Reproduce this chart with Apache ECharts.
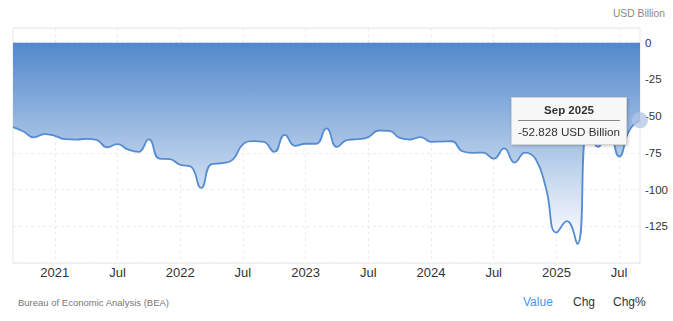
<!DOCTYPE html>
<html>
<head>
<meta charset="utf-8">
<script src="https://cdn.jsdelivr.net/npm/echarts@6.0.0/dist/echarts.min.js"></script>
<style>
html,body{margin:0;padding:0;background:#fff;}
#c{width:673px;height:321px;}
</style>
</head>
<body>
<div id="c"></div>
<script>
const categories = [
  'Sep 2020','Oct 2020','Nov 2020','Dec 2020',
  'Jan 2021','Feb 2021','Mar 2021','Apr 2021','May 2021','Jun 2021','Jul 2021','Aug 2021','Sep 2021','Oct 2021','Nov 2021','Dec 2021',
  'Jan 2022','Feb 2022','Mar 2022','Apr 2022','May 2022','Jun 2022','Jul 2022','Aug 2022','Sep 2022','Oct 2022','Nov 2022','Dec 2022',
  'Jan 2023','Feb 2023','Mar 2023','Apr 2023','May 2023','Jun 2023','Jul 2023','Aug 2023','Sep 2023','Oct 2023','Nov 2023','Dec 2023',
  'Jan 2024','Feb 2024','Mar 2024','Apr 2024','May 2024','Jun 2024','Jul 2024','Aug 2024','Sep 2024','Oct 2024','Nov 2024','Dec 2024',
  'Jan 2025','Feb 2025','Mar 2025','Apr 2025','May 2025','Jun 2025','Jul 2025','Aug 2025','Sep 2025'
];
const values = [
  -57.5, -60.5, -64.5, -62.3,
  -63.4, -65.7, -66.0, -65.5, -66.2, -71.2, -69.1, -72.7, -74.4, -65.8, -78.9, -79.3,
  -83.1, -84.3, -98.9, -82.7, -82.0, -79.8, -69.2, -67.0, -67.6, -74.4, -62.7, -70.3,
  -68.8, -68.8, -58.4, -71.0, -66.1, -65.7, -64.3, -59.8, -60.0, -64.8, -65.9, -64.3,
  -67.5, -67.3, -67.1, -73.9, -75.0, -74.8, -79.0, -72.0, -81.6, -74.8, -79.0, -99.0,
  -129.2, -121.5, -137.0, -60.0, -71.0, -60.0, -77.5, -59.5, -52.828
];
const yTicks = { min: -150, max: 10, step: 25 };
const unitLabel = 'USD Billion';
const sourceLabel = 'Bureau of Economic Analysis (BEA)';
const tabLabels = ['Value', 'Chg', 'Chg%'];

const FONT = '"Liberation Sans", Arial, sans-serif';
const isMajor = v => v.indexOf('Jan') === 0 || v.indexOf('Jul') === 0;
const fmtX = v => v.indexOf('Jan') === 0 ? v.slice(4) : (v.indexOf('Jul') === 0 ? 'Jul' : '');
const lastIdx = values.length - 1;

const chart = echarts.init(document.getElementById('c'), null, { renderer: 'svg' });
chart.setOption({
  animation: false,
  textStyle: { fontFamily: FONT },
  grid: { left: 13, right: 33, top: 28, bottom: 58, show: true, borderColor: '#e6e6e6', borderWidth: 1 },
  xAxis: {
    type: 'category',
    data: categories,
    boundaryGap: false,
    axisLine: { show: false },
    axisTick: { show: false },
    axisLabel: {
      interval: (i, v) => isMajor(v),
      formatter: v => fmtX(v),
      color: '#333', fontSize: 13, margin: 3, fontFamily: FONT
    },
    splitLine: { show: true, interval: (i, v) => isMajor(v), lineStyle: { color: '#ececec', type: [3, 3] } }
  },
  yAxis: {
    type: 'value',
    position: 'right',
    min: yTicks.min, max: yTicks.max, interval: yTicks.step,
    axisLine: { show: false },
    axisTick: { show: false },
    axisLabel: {
      formatter: v => (v > 0 || v <= yTicks.min) ? '' : String(v),
      color: '#333', fontSize: 11.5, margin: 5, fontFamily: FONT
    },
    splitLine: { show: true, lineStyle: { color: '#ececec', type: [3, 3] } }
  },
  tooltip: {
    trigger: 'axis',
    axisPointer: { type: 'none' },
    alwaysShowContent: true,
    showDelay: 0,
    transitionDuration: 0,
    position: [511, 97],
    backgroundColor: '#f7f7f7',
    borderColor: '#d4d4d4',
    borderWidth: 1,
    borderRadius: 0,
    padding: [5, 6],
    extraCssText: 'box-shadow:1px 1px 3px rgba(0,0,0,0.22);',
    textStyle: { color: '#333', fontFamily: FONT, fontSize: 12 },
    formatter: params => {
      const p = params[0];
      return '<div style="text-align:center;font-weight:bold;font-size:11.5px;line-height:15px;border-bottom:1px solid #888;padding-bottom:2px;margin-bottom:3px;">' + p.name + '</div>' +
             '<div style="font-size:11.7px;line-height:15px;">' + p.value + ' ' + unitLabel + '</div>';
    }
  },
  series: [{
    type: 'line',
    data: values,
    smooth: 0.5,
    symbol: 'none',
    lineStyle: { color: '#4d7fc0', width: 1.8 },
    areaStyle: {
      origin: 'auto',
      opacity: 1,
      color: new echarts.graphic.LinearGradient(0, 0, 0, 1, [
        { offset: 0, color: '#4a7cba' },
        { offset: 1, color: '#f3f6fb' }
      ])
    },
    markPoint: {
      silent: true,
      symbol: 'circle',
      symbolSize: 16,
      label: { show: false },
      itemStyle: { color: 'rgba(175,198,230,0.75)' },
      data: [{ coord: [categories[lastIdx], values[lastIdx]] }]
    }
  }],
  graphic: [
    { type: 'text', x: 665, y: 13, style: { text: unitLabel, fill: '#888', font: '10.3px ' + FONT, align: 'right', verticalAlign: 'middle' } },
    { type: 'text', x: 18, y: 302, style: { text: sourceLabel, fill: '#777', font: '9.5px ' + FONT, align: 'left', verticalAlign: 'middle' } },
    { type: 'text', x: 523, y: 302, style: { text: tabLabels[0], fill: '#4a96e8', font: '12px ' + FONT, align: 'left', verticalAlign: 'middle' } },
    { type: 'text', x: 573, y: 302, style: { text: tabLabels[1], fill: '#333', font: '12px ' + FONT, align: 'left', verticalAlign: 'middle' } },
    { type: 'text', x: 613, y: 302, style: { text: tabLabels[2], fill: '#333', font: '12px ' + FONT, align: 'left', verticalAlign: 'middle' } }
  ]
});
chart.dispatchAction({ type: 'showTip', seriesIndex: 0, dataIndex: lastIdx });
</script>
</body>
</html>
